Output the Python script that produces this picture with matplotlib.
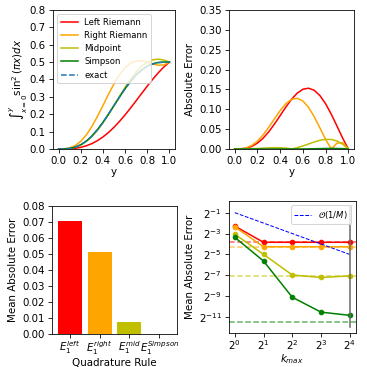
import numpy as np
import matplotlib.pyplot as plt

# values
y_grid = [0.0, 0.05, 0.1, 0.15, 0.2, 0.25, 0.3, 0.35, 0.4, 0.45, 0.5,
          0.55, 0.6, 0.65, 0.7, 0.75, 0.8, 0.85, 0.9, 0.95, 1.0]
exact = [0, 0.0004, 0.0032, 0.0106, 0.0243, 0.0454, 0.0743, 0.1106, 0.1532, 0.2004, 0.25,
         0.2996, 0.3468, 0.3894, 0.4257, 0.4546, 0.4757, 0.4894, 0.4968, 0.4996, 0.5]
left = [0, 0.0002, 0.0012, 0.0041, 0.0095, 0.0183, 0.0309, 0.0478, 0.0691, 0.0949, 0.125,
        0.1590, 0.1964, 0.2363, 0.2779, 0.3201, 0.3618, 0.4018, 0.4390, 0.4721, 0.5]
right = [0, 0.0008, 0.0060, 0.0195, 0.0441, 0.0808, 0.1291, 0.1867, 0.25, 0.3144, 0.375,
         0.4273, 0.4677, 0.4943, 0.5069, 0.5076, 0.5, 0.4894, 0.4820, 0.4837, 0.5]
mid = [0, 0.0004, 0.0030, 0.0100, 0.0231, 0.0433, 0.0714, 0.1073, 0.15, 0.1982, 0.25,
       0.3029, 0.3545, 0.4021, 0.4434, 0.4765, 0.5, 0.5134, 0.5170, 0.5118, 0.5]
simpson = [0, 0.0004, 0.0032, 0.0106, 0.0243, 0.0454, 0.0743, 0.1106, 0.1532, 0.2004, 0.25,
           0.2997, 0.3470, 0.3898, 0.4264, 0.4556, 0.4770, 0.4908, 0.4981, 0.5005, 0.5]

rule_labels = ['$E_1^{left}$', '$E_1^{right}$', '$E_1^{mid}$', '$E_1^{Simpson}$']
rule_errors = [0.0707, 0.0513, 0.0076, 0.00036]

k_max = [1, 2, 4, 8, 16]
conv_left = [0.205, 0.070, 0.070, 0.070, 0.070]
conv_right = [0.195, 0.052, 0.052, 0.052, 0.052]
conv_mid = [0.120, 0.0315, 0.0080, 0.0068, 0.0075]
conv_simpson = [0.0975, 0.0202, 0.00183, 0.00068, 0.00055]
order_ref = [0.5, 0.25, 0.125, 0.0625, 0.03125]
vline_span = [0.000256, 0.727]

colors = ['red', 'orange', 'y', 'green']
names = ['Left Riemann', 'Right Riemann', 'Midpoint', 'Simpson']
approx = [left, right, mid, simpson]

x_ticks = [0.0, 0.2, 0.4, 0.6, 0.8, 1.0]

fig = plt.figure(figsize=(5, 5))
ax1 = fig.add_axes([0.1444, 0.594, 0.3324, 0.3788])
ax2 = fig.add_axes([0.624, 0.594, 0.3406, 0.3788])
ax3 = fig.add_axes([0.1417, 0.089, 0.3406, 0.3497])
ax4 = fig.add_axes([0.624, 0.093, 0.3447, 0.3593])

# integral approximations
for a, c, n in zip(approx, colors, names):
    ax1.plot(y_grid, a, color=c, label=n)
ax1.plot(y_grid, exact, '--', color='C0', label='exact')
ax1.set_ylim(0, 0.8)
ax1.set_xticks(x_ticks)
ax1.set_yticks([0.0, 0.1, 0.2, 0.3, 0.4, 0.5, 0.6, 0.7, 0.8])
ax1.set_xlabel('y', labelpad=1)
ax1.set_ylabel(r'$\int_{x=0}^{y} \sin^2(\pi x) dx$', labelpad=0)
ax1.legend(loc='upper left', fontsize='small')

# absolute error
ex = np.array(exact)
for a, c in zip(approx, colors):
    ax2.plot(y_grid, np.abs(np.array(a) - ex), color=c)
ax2.set_ylim(0, 0.35)
ax2.set_xticks(x_ticks)
ax2.set_yticks([0.0, 0.05, 0.1, 0.15, 0.2, 0.25, 0.3, 0.35])
ax2.set_xlabel('y', labelpad=1)
ax2.set_ylabel('Absolute Error')

# mean error per rule
ax3.bar(range(len(rule_errors)), rule_errors, color=colors)
ax3.set_xticks(range(len(rule_errors)))
ax3.set_xticklabels(rule_labels)
ax3.tick_params(axis='x', pad=1.5)
ax3.set_ylim(0, 0.08)
ax3.set_yticks([0.0, 0.01, 0.02, 0.03, 0.04, 0.05, 0.06, 0.07, 0.08])
ax3.set_xlabel('Quadrature Rule', labelpad=1)
ax3.set_ylabel('Mean Absolute Error')

# convergence
for e, c in zip(rule_errors, colors):
    ax4.axhline(e, color=c, ls='--', alpha=0.6)
for s, c in zip([conv_left, conv_right, conv_mid, conv_simpson], colors):
    ax4.plot(k_max, s, '-o', color=c, ms=4.5)
ax4.plot(k_max, order_ref, '--', color='b', lw=1, label=r'$\mathcal{O}(1/M)$')
ax4.plot([16, 16], vline_span, color='dimgray', lw=1.5)
ax4.set_xscale('log', base=2)
ax4.set_yscale('log', base=2)
ax4.set_xticks(k_max)
ax4.set_yticks([2.0 ** p for p in [-1, -3, -5, -7, -9, -11]])
ax4.minorticks_off()
ax4.tick_params(axis='x', pad=2)
ax4.set_xlabel('$k_{max}$', labelpad=0)
ax4.set_ylabel('Mean Absolute Error')
ax4.legend(loc='upper right', fontsize='small')

fig.savefig('out.png', dpi=73.4)
